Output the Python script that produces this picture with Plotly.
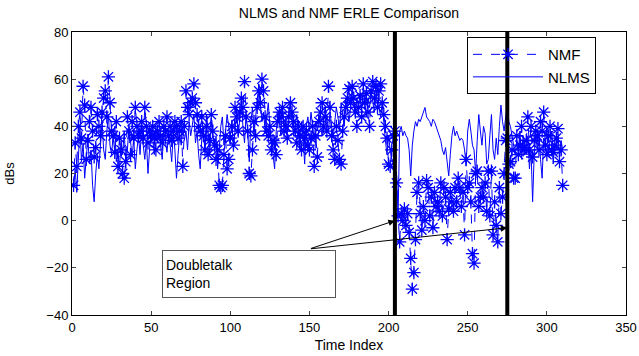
import plotly.graph_objects as go

# ---------------- data ----------------
nlms = [
    14, 22, 12, 30, 40, 25, 33, 18, 28, 35,
    24, 30, 15, 8, 20, 28, 22, 35, 42, 30,
    26, 38, 45, 32, 28, 36, 40, 25, 30, 22,
    34, 28, 38, 24, 30, 40, 33, 27, 35, 22,
    30, 36, 28, 40, 32, 26, 34, 20, 30, 38,
    35, 28, 40, 33, 37, 30, 26, 38, 34, 29,
    36, 32, 25, 38, 30, 18, 28, 36, 32, 40,
    34, 38, 30, 42, 36, 40, 45, 33, 38, 28,
    22, 35, 40, 30, 45, 38, 28, 42, 35, 30,
    36, 22, 30, 40, 44, 32, 38, 45, 40, 35,
    42, 30, 38, 48, 36, 42, 50, 40, 33, 45,
    38, 25, 42, 48, 36, 44, 52, 58, 50, 42,
    46, 38, 44, 50, 40, 35, 28, 22, 38, 45,
    42, 36, 48, 40, 44, 38, 46, 50, 42, 36,
    40, 45, 38, 30, 42, 35, 24, 40, 44, 38,
    46, 40, 34, 42, 38, 45, 40, 36, 44, 48,
    42, 38, 46, 40, 35, 42, 48, 44, 38, 50,
    45, 40, 52, 46, 42, 48, 55, 50, 44, 52,
    48, 54, 46, 56, 50, 44, 52, 48, 55, 50,
    46, 52, 57, 48, 44, 50, 40, 34, 28, 36,
    30, 26, 24, 22, 20, 2, 38, 40, 36, 38,
    36, 35, 30, 19, 32, 38, 42, 40, 43, 42,
    44, 46, 48, 44, 43, 42, 40, 43, 42, 40,
    38, 36, 34, 30, 28, 31, 25, 19, 28, 36,
    40, 36, 38, 36, 34, 35, 34, 30, 24, 38,
    43, 38, 32, 30, 20, 34, 45, 38, 32, 40,
    37, 24, 26, 36, 45, 30, 26, 35, 28, 40,
    49, 42, 38, 44, 48, 42, 40, 36, 31, 28,
    34, 30, 38, 26, 36, 32, 28, 36, 22, 30,
    8, 28, 36, 30, 38, 26, 18, 35, 30, 40,
    28, 34, 38, 24, 32, 30, 36, 28, 34, 30,
]

nmf = [
    15, 33, 23, 40, 46, 35, 57, 49, 26, 34,
    42, 48, 38, 27, 31, 45, 40, 36, 46, 52,
    55, 44, 61, 50, 38, 36, 29, 42, 23, 35,
    30, 20, 18, 25, 44, 38, 28, 42, 35, 48,
    40, 36, 38, 42, 35, 48, 40, 33, 38, 36,
    40, 35, 30, 38, 42, 36, 33, 40, 38, 44,
    36, 40, 34, 38, 42, 40, 35, 38, 42, 23,
    40, 55, 48, 45, 50, 52, 58, 50, 45, 40,
    38, 44, 36, 30, 40, 28, 34, 45, 38, 32,
    26, 30, 15, 14, 15, 28, 36, 22, 26, 35,
    40, 32, 48, 44, 38, 46, 52, 48, 59, 44,
    38, 20, 19, 30, 42, 36, 48, 55, 50, 60,
    55, 44, 38, 36, 40, 30, 34, 33, 28, 42,
    46, 44, 48, 38, 40, 35, 44, 50, 46, 42,
    38, 33, 40, 36, 30, 40, 35, 38, 32, 30,
    35, 40, 23, 36, 27, 42, 46, 50, 40, 44,
    38, 57, 48, 36, 30, 26, 40, 34, 26, 24,
    38, 44, 48, 52, 56, 50, 57, 52, 46, 40,
    48, 53, 44, 58, 50, 54, 46, 40, 55, 59,
    52, 57, 48, 55, 58, 50, 45, 40, 35, 24,
    23, 30, 36, 38, 16, 2, -9, 3, 0, 5,
    -2, 3, -5, -16, -29, -22, -8, 12, 16, 3,
    -4, 6, 0, 17, 14, 2, 10, -3, 12, 6,
    8, 4, 16, 2, 14, 10, -8, 5, 12, 8,
    4, 14, 8, 18, 14, 6, 12, -6, 26, 14,
    16, 8, -14, -18, 20, 21, 6, 10, 14, 10,
    16, 4, 21, 2, 21, -6, 8, -2, -9, 14,
    3, 10, 20, 34, 35, 24, 25, 30, 18, 18,
    36, 28, 32, 40, 30, 31, 34, 44, 30, 40,
    27, 34, 38, 36, 30, 42, 38, 46, 32, 28,
    36, 40, 30, 29, 32, 35, 39, 25, 30, 15,
]

time_index = list(range(1, len(nmf) + 1))
doubletalk_bounds = [204, 275]
x_ticks = [0, 50, 100, 150, 200, 250, 300, 350]
y_ticks = [-40, -20, 0, 20, 40, 60, 80]
box_text = "Doubletalk<br>Region"
box_center = (112, -22.5)
arrow_tail = (150, -12)
arrow_heads = [(204, 0), (275, -3)]

FONT = "Liberation Sans, Arial, Helvetica, sans-serif"

fig = go.Figure()

fig.add_trace(go.Scatter(
    x=time_index, y=nmf, name="NMF", mode="lines+markers",
    line=dict(color="#0000ff", width=1, dash="dash"),
    marker=dict(symbol="asterisk-open", size=11, line=dict(color="#0000ff", width=1.3)),
))
fig.add_trace(go.Scatter(
    x=time_index, y=nlms, name="NLMS", mode="lines",
    line=dict(color="#0000ff", width=1),
))

for xb in doubletalk_bounds:
    fig.add_shape(type="line", x0=xb, x1=xb, y0=y_ticks[0], y1=y_ticks[-1],
                  xref="x", yref="y", line=dict(color="black", width=4))

fig.add_annotation(
    x=box_center[0], y=box_center[1], xref="x", yref="y",
    text=box_text, showarrow=False, align="left",
    width=166, height=40, borderpad=3,
    bordercolor="#555555", borderwidth=1, bgcolor="white",
    font=dict(family=FONT, size=14, color="black"),
)
for hx, hy in arrow_heads:
    fig.add_annotation(
        x=hx, y=hy, ax=arrow_tail[0], ay=arrow_tail[1],
        xref="x", yref="y", axref="x", ayref="y",
        text="", showarrow=True, arrowhead=2, arrowsize=1.3,
        arrowwidth=1, arrowcolor="black", standoff=0,
    )

fig.update_layout(
    width=639, height=356,
    margin=dict(l=72, r=13, t=32, b=41, autoexpand=False),
    paper_bgcolor="white", plot_bgcolor="white",
    font=dict(family=FONT, size=13, color="black"),
    title=dict(text="NLMS and NMF ERLE Comparison", x=0.546, xanchor="center",
               y=0.962, yanchor="middle", font=dict(family=FONT, size=14, color="black")),
    showlegend=True,
    legend=dict(x=0.713, y=0.982, xanchor="left", yanchor="top",
                bgcolor="rgba(0,0,0,0)", bordercolor="black", borderwidth=1,
                font=dict(family=FONT, size=15, color="black"),
                itemwidth=70, tracegroupgap=0),
)
fig.update_xaxes(
    range=[0, 350], tickvals=x_ticks, ticks="inside", ticklen=4,
    showline=True, linecolor="black", linewidth=1, mirror="ticks",
    showgrid=False, zeroline=False, automargin=False,
    title=dict(text="Time Index", font=dict(family=FONT, size=14), standoff=6),
)
fig.update_yaxes(
    range=[-40, 80], tickvals=y_ticks, ticks="inside", ticklen=4,
    showline=True, linecolor="black", linewidth=1, mirror="ticks",
    showgrid=False, zeroline=False, automargin=False,
    title=dict(text="dBs", font=dict(family=FONT, size=13), standoff=28),
)

fig.write_html("out.html")
